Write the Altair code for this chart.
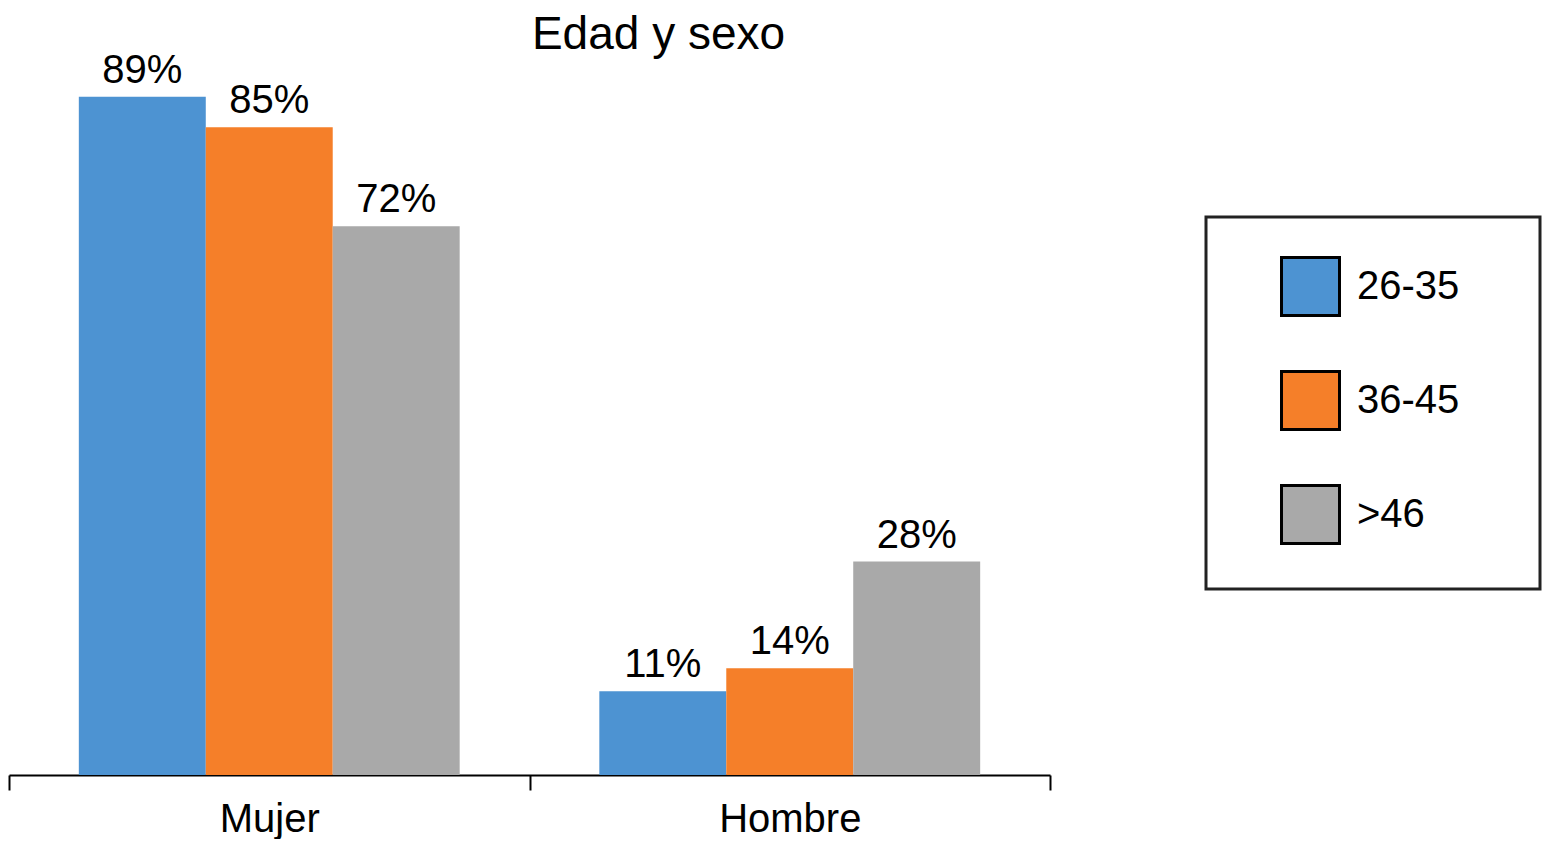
import altair as alt
import pandas as pd

categories = ["Mujer", "Hombre"]
age_groups = ["26-35", "36-45", ">46"]
values_26_35 = [89, 11]
values_36_45 = [85, 14]
values_over_46 = [72, 28]
colors = ["#4D93D2", "#F57F29", "#A9A9A9"]

rows = []
for series, vals in zip(age_groups, [values_26_35, values_36_45, values_over_46]):
    for cat, v in zip(categories, vals):
        rows.append({"sexo": cat, "edad": series, "valor": v, "label": f"{v}%"})
df = pd.DataFrame(rows)

FONT = "Liberation Sans"

x = alt.X(
    "sexo:N", sort=categories, title=None,
    scale=alt.Scale(paddingInner=0, paddingOuter=0),
    axis=alt.Axis(labelAngle=0, labelFontSize=40, labelColor="black", labelFont=FONT,
                  domainColor="black", domainWidth=2, tickColor="black", tickWidth=2,
                  tickSize=15, tickBand="extent", labelPadding=9, grid=False),
)
xo = alt.XOffset("edad:N", sort=age_groups,
                 scale=alt.Scale(paddingInner=0, paddingOuter=0.55))
y = alt.Y("valor:Q", axis=None, scale=alt.Scale(domain=[0, 95], nice=False))
color = alt.Color(
    "edad:N", sort=age_groups,
    scale=alt.Scale(domain=age_groups, range=colors),
    legend=alt.Legend(orient="none", legendX=1197, legendY=166, title=" ",
                      titleOrient="right", titleFontSize=1, titlePadding=42,
                      symbolType="square", symbolSize=3364, symbolStrokeColor="black",
                      symbolStrokeWidth=3, labelFontSize=40, labelFont=FONT,
                      labelColor="black", rowPadding=43, padding=39,
                      strokeColor="#222222", symbolOffset=35, labelOffset=16),
)

base = alt.Chart(df)
bars = base.mark_bar().encode(x=x, xOffset=xo, y=y, color=color)
text = base.mark_text(dy=-14, baseline="alphabetic", fontSize=40, font=FONT,
                      color="black").encode(x=x, xOffset=xo, y=y, text="label:N")

chart = alt.layer(bars, text).properties(
    width=1041, height=724,
    padding={"top": 3, "left": 0, "right": 0, "bottom": 0},
    title=alt.TitleParams("Edad y sexo", fontSize=46, font=FONT, fontWeight="normal",
                          color="black", anchor="middle", dx=129, offset=-8, frame="group"),
).configure_view(stroke=None).configure_legend(strokeWidth=3)

chart.save("out.html", embed_options={"renderer": "svg", "actions": False})
